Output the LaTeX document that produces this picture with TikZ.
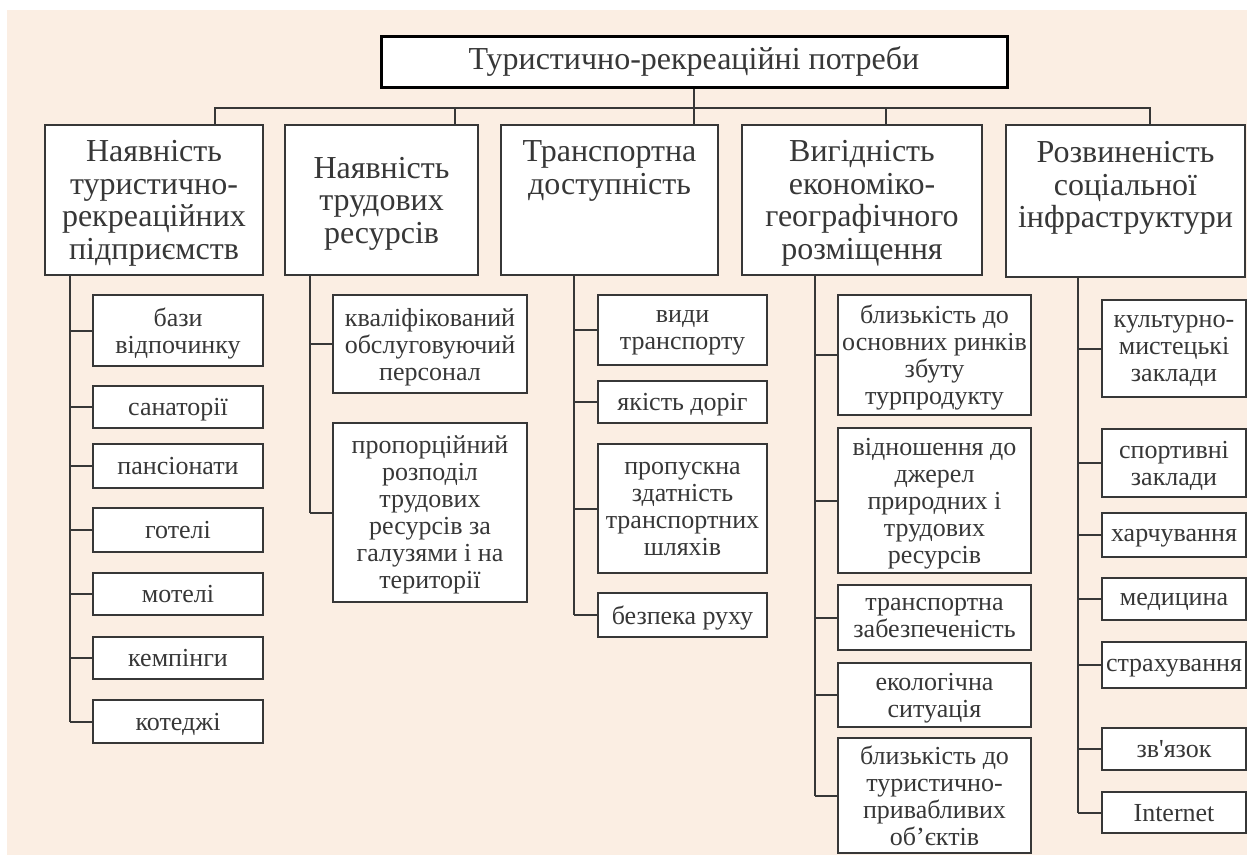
\documentclass[tikz,border=0pt]{standalone}
\usepackage{fontspec}
\setmainfont{Liberation Serif}
\usepackage{tikz}
\definecolor{cream}{RGB}{251,238,227}
\definecolor{ink}{RGB}{55,55,55}

\begin{document}
\begin{tikzpicture}[
    x=1pt, y=-1pt,
    topBox/.style={draw=black, line width=3pt, fill=white, inner sep=0pt, text=ink, font=\fontsize{32}{33}\selectfont},
    headBox/.style={draw=ink, line width=2pt, fill=white, inner sep=0pt, align=center, text=ink, text depth=0pt, minimum height=150pt, font=\fontsize{32}{32.5}\selectfont},
    itemBox/.style={draw=ink, line width=2pt, fill=white, inner sep=0pt, align=center, text=ink, text depth=0pt, font=\fontsize{26}{27}\selectfont},
    link/.style={ink, line width=2pt},
]
\useasboundingbox (0,0) rectangle (1247,855);
\fill[white] (0,0) rectangle (1247,855);
\fill[cream] (7,10) rectangle (1247,855);

\node[topBox, minimum width=626pt, minimum height=51pt] (top) at (694,61.5) {Туристично-рекреаційні потреби};

\node[headBox, minimum width=218pt] (h1) at (154,200) {Наявність\\туристично-\\рекреаційних\\підприємств};
\node[headBox, minimum width=193pt] (h2) at (381.5,200) {Наявність\\трудових\\ресурсів};
\node[headBox, minimum width=217pt] (h3) at (609.5,200) {Транспортна\\доступність\\~\\~};
\node[headBox, minimum width=240pt] (h4) at (862,200) {Вигідність\\економіко-\\географічного\\розміщення};
\node[headBox, minimum width=239pt, minimum height=152pt] (h5) at (1125.5,201) {Розвиненість\\соціальної\\інфраструктури\\~};

\coordinate (p1) at (215,108);
\coordinate (p2) at (455,108);
\coordinate (p3) at (694,108);
\coordinate (p4) at (886,108);
\coordinate (p5) at (1150,108);
\draw[link] (h1.north -| p1) |- (p5) -- (h5.north -| p5);
\draw[link] (top.south) -- (h3.north -| p3);
\foreach \i in {2,4} {
  \draw[link] (p\i) -- (h\i.north -| p\i);
}

\coordinate (v1) at (70,0);
\coordinate (v2) at (310,0);
\coordinate (v3) at (574,0);
\coordinate (v4) at (815,0);
\coordinate (v5) at (1078,0);

\foreach \i/\y/\h/\txt in {1/330.5/71/{бази\\відпочинку}, 2/407/42/санаторії, 3/466/44/пансіонати,
    4/530/44/готелі, 5/594/42/мотелі, 6/658/42/кемпінги, 7/721.5/43/котеджі} {
  \node[itemBox, minimum width=170pt, minimum height=\h pt] (a\i) at (178,\y) {\txt};
  \draw[link] (a\i.west) -- (a\i.west -| v1);
}
\draw[link] (h1.south -| v1) -- (a7.west -| v1);

\foreach \i/\y/\h/\txt in {1/344/98/{кваліфікований\\обслуговуючий\\персонал},
    2/512.5/179/{пропорційний\\розподіл\\трудових\\ресурсів за\\галузями і на\\території}} {
  \node[itemBox, minimum width=194pt, minimum height=\h pt] (b\i) at (430,\y) {\txt};
  \draw[link] (b\i.west) -- (b\i.west -| v2);
}
\draw[link] (h2.south -| v2) -- (b2.west -| v2);

\foreach \i/\y/\h/\txt in {1/330/70/{види\\транспорту}, 2/402/42/якість доріг,
    3/508.5/129/{пропускна\\здатність\\транспортних\\шляхів}, 4/615/44/безпека руху} {
  \node[itemBox, minimum width=169pt, minimum height=\h pt] (c\i) at (682.5,\y) {\txt};
  \draw[link] (c\i.west) -- (c\i.west -| v3);
}
\draw[link] (h3.south -| v3) -- (c4.west -| v3);

\foreach \i/\y/\h/\txt in {1/355/120/{близькість до\\основних ринків\\збуту\\турпродукту},
    2/500.5/145/{відношення до\\джерел\\природних і\\трудових\\ресурсів},
    3/617.5/65/{транспортна\\забезпеченість}, 4/695/64/{екологічна\\ситуація},
    5/795.5/115/{близькість до\\туристично-\\привабливих\\об’єктів}} {
  \node[itemBox, minimum width=193pt, minimum height=\h pt] (d\i) at (934.5,\y) {\txt};
  \draw[link] (d\i.west) -- (d\i.west -| v4);
}
\draw[link] (h4.south -| v4) -- (d5.west -| v4);

\foreach \i/\y/\h/\txt in {1/348.5/97/{культурно-\\мистецькі\\заклади}, 2/463/68/{спортивні\\заклади},
    3/535/44/харчування, 4/599/42/медицина, 5/665/46/страхування,
    6/749/42/{зв\textquotesingle язок}, 7/812.5/41/Internet} {
  \node[itemBox, minimum width=144pt, minimum height=\h pt] (e\i) at (1174,\y) {\txt};
  \draw[link] (e\i.west) -- (e\i.west -| v5);
}
\draw[link] (h5.south -| v5) -- (e7.west -| v5);
\end{tikzpicture}
\end{document}
